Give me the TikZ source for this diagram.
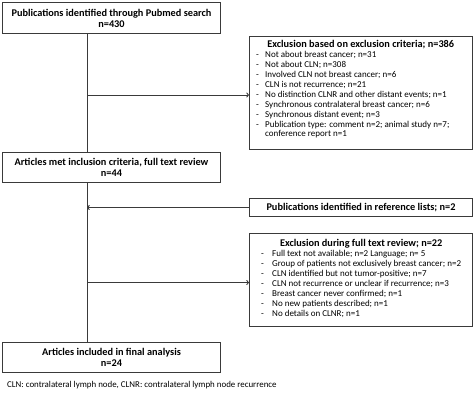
\documentclass[tikz,border=0pt]{standalone}
\usepackage{fontspec}
\setmainfont{Carlito}
\usetikzlibrary{arrows.meta,positioning}
\definecolor{linec}{HTML}{3A3A3A}
\tikzset{
  box/.style={draw=linec, line width=1bp, inner sep=0pt, anchor=north west, align=center},
  flow/.style={draw=linec, line width=0.9bp},
  arr/.style={flow, -{To[length=2.8bp,width=5bp]}},
  ttl/.style={font=\fontsize{10.3bp}{11bp}\selectfont\bfseries},
  lst/.style={font=\fontsize{9.0bp}{9.95bp}\selectfont, align=left},
}
\newcommand{\boxtitle}[1]{{\fontsize{10.3bp}{11bp}\selectfont\bfseries #1}}
\newcommand{\dashitem}[1]{\makebox[9bp][l]{-}#1}
\newcommand{\dashitemB}[1]{\makebox[11bp][l]{-}#1}
\begin{document}
\begin{tikzpicture}[x=1bp,y=-1bp]
\useasboundingbox (0,0) rectangle (474,406);
% left column boxes
\node[box, ttl, minimum width=218bp, minimum height=31bp] (pub) at (2,2)
  {Publications identified through Pubmed search\\n=430};
\node[box, ttl, minimum width=218bp, minimum height=30bp] (incl) at (2,152)
  {Articles met inclusion criteria, full text review\\n=44};
\node[box, ttl, minimum width=218bp, minimum height=30bp] (final) at (2,342)
  {Articles included in final analysis\\n=24};
% right column boxes
\node[box, minimum width=223bp, minimum height=113bp] (excl1) at (249,36) {};
\node[lst, anchor=north west, inner sep=0pt] (excl1t) at (256,40)
  {\makebox[209bp][c]{\boxtitle{Exclusion based on exclusion criteria; n=386}}\\
   \dashitem{Not about breast cancer; n=31}\\
   \dashitem{Not about CLN; n=308}\\
   \dashitem{Involved CLN not breast cancer; n=6}\\
   \dashitem{CLN is not recurrence; n=21}\\
   \dashitem{No distinction CLNR and other distant events; n=1}\\
   \dashitem{Synchronous contralateral breast cancer; n=6}\\
   \dashitem{Synchronous distant event; n=3}\\
   \dashitem{Publication type: comment n=2; animal study n=7;}\\
   \hspace*{9bp}conference report n=1};
\node[box, minimum width=223bp, minimum height=18bp] (ref) at (249,198)
  {\boxtitle{Publications identified in reference lists; n=2}};
\node[box, minimum width=223bp, minimum height=93bp] (excl2) at (249,233) {};
\node[lst, anchor=north west, inner sep=0pt] (excl2t) at (261,239)
  {\makebox[200bp][c]{\boxtitle{Exclusion during full text review; n=22}}\\
   \dashitemB{Full text not available; n=2 Language; n= 5}\\
   \dashitemB{Group of patients not exclusively breast cancer; n=2}\\
   \dashitemB{CLN identified but not tumor-positive; n=7}\\
   \dashitemB{CLN not recurrence or unclear if recurrence; n=3}\\
   \dashitemB{Breast cancer never confirmed; n=1}\\
   \dashitemB{No new patients described; n=1}\\
   \dashitemB{No details on CLNR; n=1}};
% footnote
\node[anchor=west, inner sep=0pt, font=\fontsize{8.9bp}{10bp}\selectfont] (foot) at (7,385)
  {CLN: contralateral lymph node, CLNR: contralateral lymph node recurrence};
% connectors
\coordinate (sp) at ([xshift=85bp]pub.south west);
\draw[flow] (sp) -- (sp |- incl.north);
\draw[flow] (sp |- incl.south) -- (sp |- final.north);
\draw[arr] ([yshift=-2bp]excl1.west -| sp) -- ([yshift=-2bp]excl1.west);
\draw[arr] (ref.west) -- (ref.west -| sp);
\draw[arr] ([yshift=-2.5bp]excl2.west -| sp) -- ([yshift=-2.5bp]excl2.west);
\end{tikzpicture}
\end{document}
